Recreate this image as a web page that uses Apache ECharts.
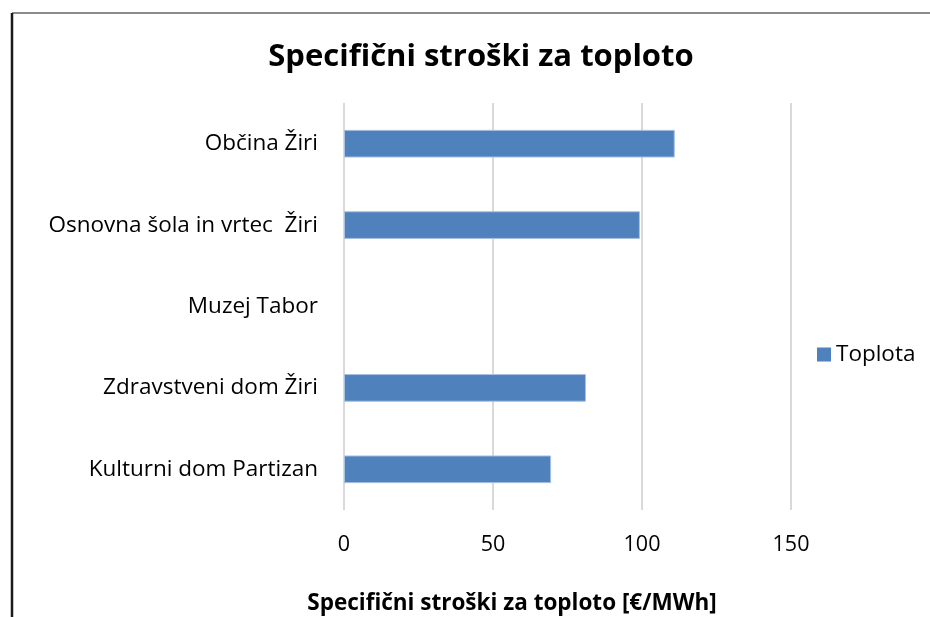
<!DOCTYPE html>
<html>
<head>
<meta charset="utf-8">
<script src="https://cdn.jsdelivr.net/npm/echarts@6/dist/echarts.min.js"></script>
<style>
  html, body { margin: 0; padding: 0; background: #fff; }
  #main { width: 930px; height: 617px; }
</style>
</head>
<body>
<div id="main"></div>
<script>
// podatki
var categories = ['Kulturni dom Partizan', 'Zdravstveni dom Žiri', 'Muzej Tabor', 'Osnovna šola in vrtec  Žiri', 'Občina Žiri'];
var toplota = [69.5, 81.2, null, 99.3, 111];
var xTicks = [0, 50, 100, 150];
var seriesName = 'Toplota';

var fontFam = '"Open Sans", "Noto Sans", sans-serif';

var myChart = echarts.init(document.getElementById('main'));
var option = {
    animation: false,
    title: [{
        text: 'Specifični stroški za toploto',
        left: 476,
        top: 37,
        textAlign: 'center',
        textStyle: { fontFamily: fontFam, fontSize: 31, fontWeight: 'bold', color: '#000' }
    }, {
        text: 'Specifični stroški za toploto [€/MWh]',
        left: 507,
        top: 587,
        textAlign: 'center',
        textStyle: { fontFamily: fontFam, fontSize: 22.5, fontWeight: 'bold', color: '#000' }
    }],
    legend: {
        data: [seriesName],
        left: 812,
        top: 338,
        orient: 'vertical',
        icon: 'rect',
        itemWidth: 14,
        itemHeight: 14,
        itemStyle: { borderWidth: 0 },
        textStyle: { fontFamily: fontFam, fontSize: 22.5, color: '#000' }
    },
    grid: { left: 344, right: 139, top: 103, bottom: 107 },
    xAxis: {
        type: 'value',
        min: 0,
        max: 150,
        interval: 50,
        axisLine: { show: false },
        axisTick: { show: false },
        splitLine: { lineStyle: { color: '#d9d9d9', width: 2 } },
        axisLabel: {
            margin: 24,
            fontFamily: fontFam,
            fontSize: 21.5,
            color: '#000',
            formatter: function (v) { return xTicks.indexOf(v) >= 0 ? String(v) : ''; }
        }
    },
    yAxis: {
        type: 'category',
        data: categories,
        axisLine: { show: false },
        axisTick: { show: false },
        axisLabel: { margin: 26, fontFamily: fontFam, fontSize: 22.5, color: '#000' }
    },
    series: [{
        name: seriesName,
        type: 'bar',
        data: toplota,
        barWidth: '34%',
        itemStyle: { color: '#4f81bd', borderColor: '#a9c1e0', borderWidth: 1 }
    }],
    graphic: [
        { type: 'line', shape: { x1: 12, y1: 13, x2: 930, y2: 13 }, style: { stroke: '#8c8c8c', lineWidth: 2 } },
        { type: 'line', shape: { x1: 12, y1: 13, x2: 12, y2: 617 }, style: { stroke: '#1a1a1a', lineWidth: 2.5 } }
    ]
};
myChart.setOption(option);
</script>
</body>
</html>
